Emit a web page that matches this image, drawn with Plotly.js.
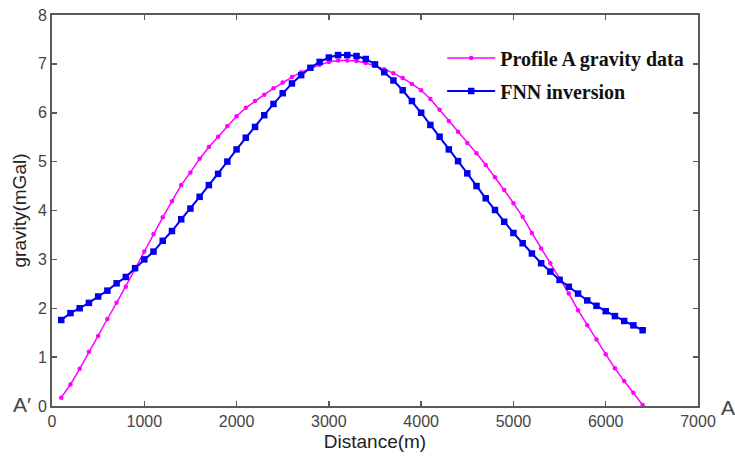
<!DOCTYPE html>
<html>
<head>
<meta charset="utf-8">
<script src="https://cdn.plot.ly/plotly-3.0.1.min.js"></script>
<style>html,body{margin:0;padding:0;background:#fff;}#chart{width:735px;height:456px;}</style>
</head>
<body>
<div id="chart"></div>
<script>
const distance = [100,200,300,400,500,600,700,800,900,1000,1100,1200,1300,1400,1500,1600,1700,1800,1900,2000,
  2100,2200,2300,2400,2500,2600,2700,2800,2900,3000,3100,3200,3300,3400,3500,3600,3700,3800,3900,4000,
  4100,4200,4300,4400,4500,4600,4700,4800,4900,5000,5100,5200,5300,5400,5500,5600,5700,5800,5900,6000,
  6100,6200,6300,6400];
const profileA = [0.17,0.44,0.76,1.11,1.43,1.78,2.11,2.44,2.80,3.16,3.52,3.86,4.19,4.52,4.78,5.06,5.30,5.51,5.73,5.93,
  6.10,6.24,6.37,6.50,6.62,6.73,6.83,6.91,6.98,7.04,7.07,7.07,7.06,7.02,6.96,6.89,6.81,6.71,6.59,6.46,
  6.28,6.06,5.83,5.61,5.38,5.17,4.93,4.68,4.42,4.15,3.87,3.54,3.22,2.92,2.61,2.30,1.96,1.65,1.36,1.06,
  0.77,0.51,0.27,0.02];
const fnnInversion = [1.76,1.90,2.00,2.11,2.24,2.36,2.51,2.64,2.82,3.00,3.16,3.38,3.58,3.82,4.04,4.28,4.52,4.75,5.00,5.25,
  5.49,5.71,5.95,6.18,6.40,6.60,6.77,6.92,7.04,7.13,7.18,7.18,7.16,7.10,6.99,6.83,6.66,6.46,6.24,6.00,
  5.75,5.51,5.25,5.01,4.76,4.50,4.25,4.01,3.77,3.54,3.33,3.12,2.92,2.75,2.58,2.44,2.30,2.16,2.05,1.94,
  1.84,1.74,1.65,1.55];
const seriesNames = ["Profile A gravity data", "FNN inversion"];
const xTitle = "Distance(m)";
const yTitle = "gravity(mGal)";

const sans = 'Liberation Sans, Arial, sans-serif';
const axisCommon = {
  showline: true, linecolor: '#5a5a5a', linewidth: 2, mirror: 'ticks',
  ticks: 'inside', ticklen: 5, tickwidth: 1.5, tickcolor: '#5a5a5a',
  showgrid: false, zeroline: false,
  tickfont: {family: sans, size: 16, color: '#444'}
};

const traces = [
  {x: distance, y: profileA, name: seriesNames[0], type: 'scatter', mode: 'lines+markers',
   legendgroup: 'a',
   line: {color: '#ff00ff', width: 1.5}, marker: {color: '#ff00ff', size: 4.5, symbol: 'circle'}},
  {x: distance, y: fnnInversion, name: seriesNames[1], type: 'scatter', mode: 'lines+markers',
   legendgroup: 'b',
   line: {color: '#0000ee', width: 2}, marker: {color: '#0000ee', size: 6.5, symbol: 'square'}}
];

const layout = {
  width: 735, height: 456,
  margin: {l: 52, r: 37, t: 15, b: 50},
  paper_bgcolor: '#fff', plot_bgcolor: '#fff',
  showlegend: true,
  legend: {x: 0.604, y: 0.94, xanchor: 'left', yanchor: 'top', bgcolor: 'rgba(0,0,0,0)',
    borderwidth: 0, itemwidth: 48, tracegroupgap: 4, traceorder: 'grouped',
    font: {family: 'Liberation Serif, Times New Roman, serif', size: 20, color: '#111', weight: 'bold'}},
  xaxis: Object.assign({}, axisCommon, {range: [0, 7000], dtick: 1000, tick0: 0,
    title: {text: xTitle, standoff: 5, font: {family: sans, size: 19, color: '#222'}}}),
  yaxis: Object.assign({}, axisCommon, {range: [0, 8], dtick: 1, tick0: 0,
    title: {text: yTitle, standoff: 6, font: {family: sans, size: 19, color: '#222'}}}),
  annotations: [
    {text: "A′", xref: 'paper', yref: 'paper', x: -0.03, y: 0.005, xanchor: 'right', yanchor: 'middle', showarrow: false,
     font: {family: sans, size: 21, color: '#444'}},
    {text: "A", xref: 'paper', yref: 'paper', x: 1.033, y: -0.005, xanchor: 'left', yanchor: 'middle', showarrow: false,
     font: {family: sans, size: 21, color: '#444'}}
  ]
};

Plotly.newPlot('chart', traces, layout, {displayModeBar: false, staticPlot: true});
</script>
</body>
</html>
